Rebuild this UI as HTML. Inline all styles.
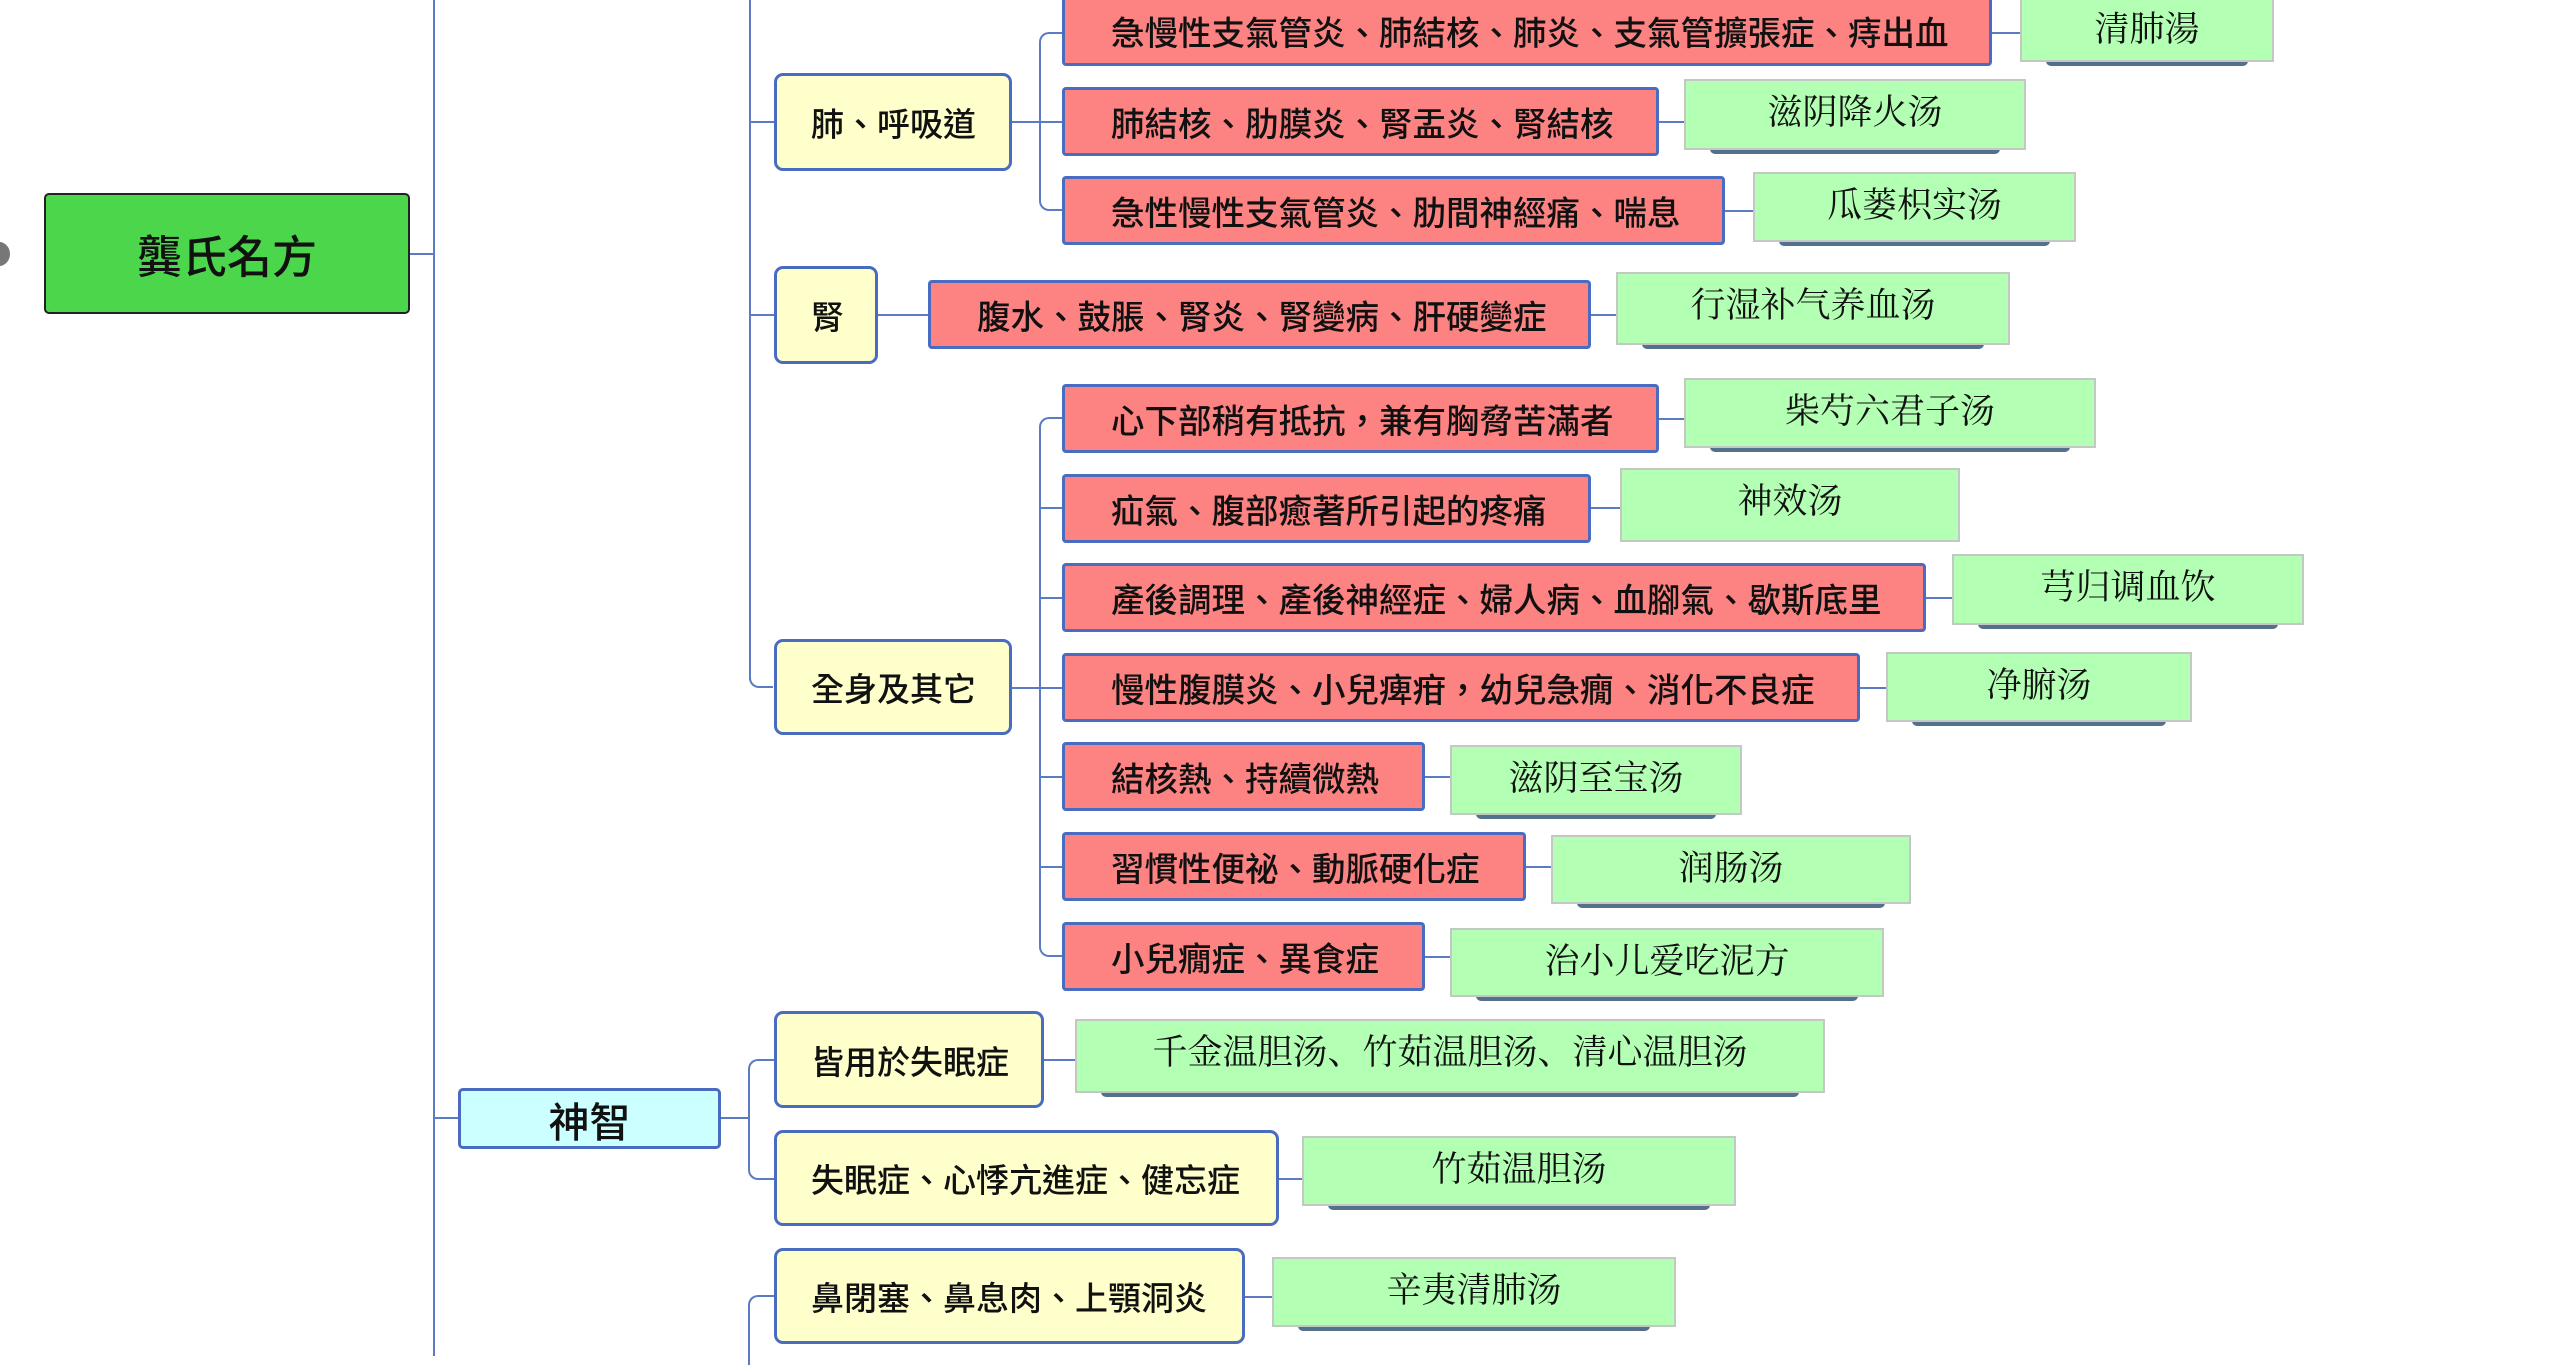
<!DOCTYPE html>
<html><head><meta charset="utf-8"><style>
html,body{margin:0;padding:0;background:#fff;}
body{width:2566px;height:1356px;position:relative;overflow:hidden;font-family:"Liberation Sans","Noto Sans CJK TC",sans-serif;}
.l{position:absolute;background:#5b7cc4;}
.r{position:absolute;background:#fd8383;border:3px solid #4a6cc0;border-radius:4px;box-sizing:border-box;font-size:33.5px;font-weight:500;color:#111;display:flex;align-items:center;padding-left:46px;white-space:nowrap;}
.y{position:absolute;background:#ffffcc;border:3px solid #4a6cc0;border-radius:9px;box-sizing:border-box;font-size:33px;font-weight:500;color:#111;display:flex;align-items:center;padding-left:34px;white-space:nowrap;}
.g{position:absolute;}
.g .s{position:absolute;left:26px;right:26px;bottom:-4px;height:10px;background:#55708a;border-radius:0 0 5px 5px;}
.g .b{position:absolute;inset:0;background:#b3ffb3;border:2px solid #c4c8c4;box-sizing:border-box;display:flex;justify-content:center;padding-top:4px;font-family:"Liberation Serif","Noto Serif CJK SC",serif;font-size:35px;color:#111;white-space:nowrap;}
</style></head><body>
<div style="position:absolute;left:-12px;top:242px;width:22px;height:24px;border-radius:50%;background:#777;"></div>
<div style="position:absolute;left:44px;top:193px;width:366px;height:121px;background:#4cd64c;border:2px solid #222;border-radius:5px;box-sizing:border-box;display:flex;align-items:center;justify-content:center;font-size:45px;font-weight:500;color:#111;">龔氏名方</div>
<div class="l" style="left:410px;top:253px;width:25px;height:2px;"></div>
<div class="l" style="left:433px;top:0;width:2px;height:1356px;"></div>

<div class="l" style="left:749px;top:0;width:2px;height:680px;"></div>
<div style="position:absolute;left:749px;top:672px;width:24px;height:16px;border-left:2px solid #5b7cc4;border-bottom:2px solid #5b7cc4;border-bottom-left-radius:10px;box-sizing:border-box;"></div>
<div class="l" style="left:749px;top:121px;width:25px;height:2px;"></div>
<div class="l" style="left:749px;top:314px;width:25px;height:2px;"></div>

<div class="y" style="left:774px;top:73px;width:238px;height:98px;">肺、呼吸道</div>
<div class="y" style="left:774px;top:266px;width:104px;height:98px;">腎</div>
<div class="y" style="left:774px;top:639px;width:238px;height:96px;">全身及其它</div>

<div class="l" style="left:1012px;top:121px;width:27px;height:2px;"></div>
<div style="position:absolute;left:1039px;top:32px;width:24px;height:179px;border:2px solid #5b7cc4;border-right:none;border-radius:10px 0 0 10px;box-sizing:border-box;"></div>
<div class="l" style="left:1039px;top:121px;width:24px;height:2px;"></div>
<div class="r" style="left:1062px;top:-6px;width:930px;height:72px;">急慢性支氣管炎、肺結核、肺炎、支氣管擴張症、痔出血</div>
<div class="r" style="left:1062px;top:87px;width:597px;height:69px;">肺結核、肋膜炎、腎盂炎、腎結核</div>
<div class="r" style="left:1062px;top:176px;width:663px;height:69px;">急性慢性支氣管炎、肋間神經痛、喘息</div>

<div class="l" style="left:878px;top:314px;width:50px;height:2px;"></div>
<div class="r" style="left:928px;top:280px;width:663px;height:69px;">腹水、鼓脹、腎炎、腎變病、肝硬變症</div>

<div class="l" style="left:1012px;top:687px;width:27px;height:2px;"></div>
<div style="position:absolute;left:1039px;top:417px;width:24px;height:540px;border:2px solid #5b7cc4;border-right:none;border-radius:10px 0 0 10px;box-sizing:border-box;"></div>
<div class="l" style="left:1039px;top:507px;width:24px;height:2px;"></div>
<div class="l" style="left:1039px;top:597px;width:24px;height:2px;"></div>
<div class="l" style="left:1039px;top:687px;width:24px;height:2px;"></div>
<div class="l" style="left:1039px;top:776px;width:24px;height:2px;"></div>
<div class="l" style="left:1039px;top:866px;width:24px;height:2px;"></div>
<div class="r" style="left:1062px;top:384px;width:597px;height:69px;">心下部稍有抵抗，兼有胸脅苦滿者</div>
<div class="r" style="left:1062px;top:474px;width:529px;height:69px;">疝氣、腹部癒著所引起的疼痛</div>
<div class="r" style="left:1062px;top:563px;width:864px;height:69px;">產後調理、產後神經症、婦人病、血腳氣、歇斯底里</div>
<div class="r" style="left:1062px;top:653px;width:798px;height:69px;">慢性腹膜炎、小兒痺疳，幼兒急癇、消化不良症</div>
<div class="r" style="left:1062px;top:742px;width:363px;height:69px;">結核熱、持續微熱</div>
<div class="r" style="left:1062px;top:832px;width:464px;height:69px;">習慣性便祕、動脈硬化症</div>
<div class="r" style="left:1062px;top:922px;width:363px;height:69px;">小兒癇症、異食症</div>

<div class="l" style="left:1992px;top:32px;width:28px;height:2px;"></div>
<div class="l" style="left:1659px;top:121px;width:25px;height:2px;"></div>
<div class="l" style="left:1725px;top:210px;width:28px;height:2px;"></div>
<div class="l" style="left:1591px;top:314px;width:25px;height:2px;"></div>
<div class="l" style="left:1659px;top:418px;width:25px;height:2px;"></div>
<div class="l" style="left:1591px;top:507px;width:29px;height:2px;"></div>
<div class="l" style="left:1926px;top:597px;width:26px;height:2px;"></div>
<div class="l" style="left:1860px;top:687px;width:26px;height:2px;"></div>
<div class="l" style="left:1425px;top:776px;width:25px;height:2px;"></div>
<div class="l" style="left:1526px;top:866px;width:25px;height:2px;"></div>
<div class="l" style="left:1425px;top:956px;width:25px;height:2px;"></div>

<div class="g" style="left:2020px;top:-4px;width:254px;height:66px;"><div class="s"></div><div class="b">清肺湯</div></div>
<div class="g" style="left:1684px;top:79px;width:342px;height:71px;"><div class="s"></div><div class="b">滋阴降火汤</div></div>
<div class="g" style="left:1753px;top:172px;width:323px;height:70px;"><div class="s"></div><div class="b">瓜蒌枳实汤</div></div>
<div class="g" style="left:1616px;top:272px;width:394px;height:73px;"><div class="s"></div><div class="b">行湿补气养血汤</div></div>
<div class="g" style="left:1684px;top:378px;width:412px;height:70px;"><div class="s"></div><div class="b">柴芍六君子汤</div></div>
<div class="g" style="left:1620px;top:468px;width:340px;height:74px;"><div class="b">神效汤</div></div>
<div class="g" style="left:1952px;top:554px;width:352px;height:71px;"><div class="s"></div><div class="b">芎归调血饮</div></div>
<div class="g" style="left:1886px;top:652px;width:306px;height:70px;"><div class="s"></div><div class="b">净腑汤</div></div>
<div class="g" style="left:1450px;top:745px;width:292px;height:70px;"><div class="s"></div><div class="b">滋阴至宝汤</div></div>
<div class="g" style="left:1551px;top:835px;width:360px;height:69px;"><div class="s"></div><div class="b">润肠汤</div></div>
<div class="g" style="left:1450px;top:928px;width:434px;height:69px;"><div class="s"></div><div class="b">治小儿爱吃泥方</div></div>

<div class="l" style="left:434px;top:1117px;width:24px;height:2px;"></div>
<div style="position:absolute;left:458px;top:1088px;width:263px;height:61px;background:#ccffff;border:3px solid #4a6cc0;border-radius:5px;box-sizing:border-box;display:flex;align-items:center;justify-content:center;font-size:41px;font-weight:500;color:#111;">神智</div>
<div class="l" style="left:721px;top:1117px;width:27px;height:2px;"></div>
<div style="position:absolute;left:748px;top:1059px;width:26px;height:121px;border:2px solid #5b7cc4;border-right:none;border-radius:10px 0 0 10px;box-sizing:border-box;"></div>
<div class="y" style="left:774px;top:1011px;width:270px;height:97px;">皆用於失眠症</div>
<div class="y" style="left:774px;top:1130px;width:505px;height:96px;">失眠症、心悸亢進症、健忘症</div>
<div style="position:absolute;left:748px;top:1295px;width:26px;height:70px;border-left:2px solid #5b7cc4;border-top:2px solid #5b7cc4;border-top-left-radius:10px;box-sizing:border-box;"></div>
<div class="y" style="left:774px;top:1248px;width:471px;height:96px;">鼻閉塞、鼻息肉、上顎洞炎</div>
<div class="l" style="left:1044px;top:1059px;width:31px;height:2px;"></div>
<div class="l" style="left:1279px;top:1178px;width:23px;height:2px;"></div>
<div class="l" style="left:1245px;top:1296px;width:27px;height:2px;"></div>
<div class="g" style="left:1075px;top:1019px;width:750px;height:74px;"><div class="s"></div><div class="b">千金温胆汤、竹茹温胆汤、清心温胆汤</div></div>
<div class="g" style="left:1302px;top:1136px;width:434px;height:70px;"><div class="s"></div><div class="b">竹茹温胆汤</div></div>
<div class="g" style="left:1272px;top:1257px;width:404px;height:70px;"><div class="s"></div><div class="b">辛夷清肺汤</div></div>
</body></html>
